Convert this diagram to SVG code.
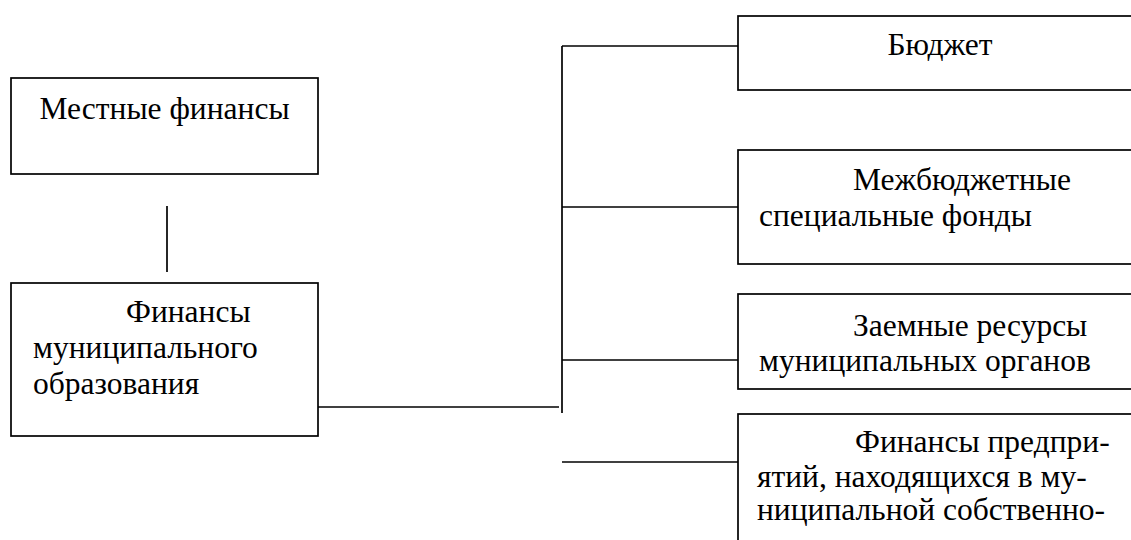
<svg xmlns="http://www.w3.org/2000/svg" width="1131" height="540" viewBox="0 0 1131 540">
<style>
.box{fill:#fff;stroke:#000;stroke-width:1.7}
.ln{stroke:#000;stroke-width:1.7;fill:none}
.t{font-size:31.5px;fill:#000}
</style>
<rect width="1131" height="540" fill="#fff"/>
<g id="connectors">
<line class="ln" x1="167" y1="206" x2="167" y2="272"/>
<line class="ln" x1="318" y1="407" x2="559" y2="407"/>
<line class="ln" x1="562" y1="46" x2="562" y2="413"/>
<line class="ln" x1="562" y1="46" x2="738" y2="46"/>
<line class="ln" x1="562" y1="207" x2="738" y2="207"/>
<line class="ln" x1="562" y1="360" x2="738" y2="360"/>
<line class="ln" x1="562" y1="462" x2="738" y2="462"/>
</g>
<g font-family="'Liberation Serif', 'Times New Roman', 'DejaVu Serif', serif">
<g id="local-finance">
<rect class="box" x="11" y="78" width="307" height="96"/>
<text class="t" x="164.5" y="119" text-anchor="middle">Местные финансы</text>
</g>
<g id="municipal-finance">
<rect class="box" x="11" y="283" width="307" height="153"/>
<text class="t" x="126" y="322">Финансы</text>
<text class="t" x="33" y="358">муниципального</text>
<text class="t" x="33" y="394">образования</text>
</g>
<g id="budget">
<rect class="box" x="738" y="16" width="410" height="74"/>
<text class="t" x="940" y="55" text-anchor="middle">Бюджет</text>
</g>
<g id="interbudget">
<rect class="box" x="738" y="150" width="410" height="114"/>
<text class="t" x="853" y="190">Межбюджетные</text>
<text class="t" x="759" y="226">специальные фонды</text>
</g>
<g id="borrowed">
<rect class="box" x="738" y="294" width="410" height="95"/>
<text class="t" x="853" y="336">Заемные ресурсы</text>
<text class="t" x="759" y="371">муниципальных органов</text>
</g>
<g id="enterprises">
<rect class="box" x="738" y="414" width="410" height="140"/>
<text class="t" x="855" y="452">Финансы предпри-</text>
<text class="t" x="757" y="487">ятий, находящихся в му-</text>
<text class="t" x="757" y="520">ниципальной собственно-</text>
</g>
</g>
</svg>
